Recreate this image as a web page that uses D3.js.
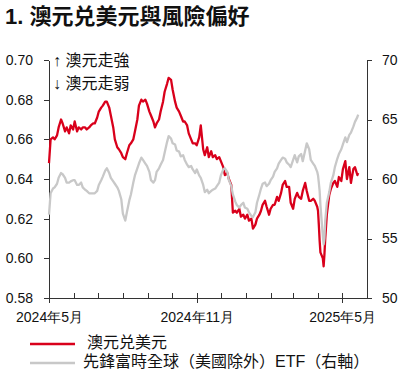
<!DOCTYPE html>
<html>
<head>
<meta charset="utf-8">
<script src="https://cdn.jsdelivr.net/npm/d3@7"></script>
<style>
  body { margin: 0; background: #fff; }
  svg { display: block; }
  .axis path, .axis line { stroke: #333; shape-rendering: crispEdges; }
  .axis text { font-family: "Liberation Sans", Arial, sans-serif; font-size: 14px; fill: #111; }
</style>
</head>
<body>
<div id="chart"></div>
<script>
// dates shared by both series
const dates = [
  "2024-05-01","2024-05-03","2024-05-06","2024-05-08","2024-05-11","2024-05-13","2024-05-16","2024-05-18","2024-05-21","2024-05-23",
  "2024-05-26","2024-05-28","2024-05-31","2024-06-02","2024-06-05","2024-06-07","2024-06-10","2024-06-12","2024-06-15","2024-06-17",
  "2024-06-20","2024-06-22","2024-06-25","2024-06-27","2024-06-30","2024-07-02","2024-07-05","2024-07-07","2024-07-10","2024-07-12",
  "2024-07-15","2024-07-17","2024-07-20","2024-07-22","2024-07-25","2024-07-27","2024-07-30","2024-08-01","2024-08-04","2024-08-06",
  "2024-08-09","2024-08-11","2024-08-14","2024-08-16","2024-08-19","2024-08-21","2024-08-24","2024-08-26","2024-08-29","2024-08-31",
  "2024-09-03","2024-09-05","2024-09-08","2024-09-10","2024-09-12","2024-09-15","2024-09-17","2024-09-20","2024-09-22","2024-09-25",
  "2024-09-27","2024-09-30","2024-10-02","2024-10-05","2024-10-07","2024-10-10","2024-10-12","2024-10-15","2024-10-17","2024-10-20",
  "2024-10-22","2024-10-25","2024-10-27","2024-10-30","2024-11-01","2024-11-04","2024-11-06","2024-11-09","2024-11-11","2024-11-14",
  "2024-11-16","2024-11-19","2024-11-21","2024-11-24","2024-11-26","2024-11-29","2024-12-01","2024-12-04","2024-12-06","2024-12-09",
  "2024-12-11","2024-12-14","2024-12-16","2024-12-19","2024-12-21","2024-12-24","2024-12-26","2024-12-29","2024-12-31","2025-01-03",
  "2025-01-05","2025-01-08","2025-01-10","2025-01-13","2025-01-15","2025-01-18","2025-01-20","2025-01-22","2025-01-25","2025-01-27",
  "2025-01-30","2025-02-01","2025-02-04","2025-02-06","2025-02-09","2025-02-11","2025-02-14","2025-02-16","2025-02-19","2025-02-21",
  "2025-02-24","2025-02-26","2025-03-01","2025-03-03","2025-03-06","2025-03-08","2025-03-11","2025-03-13","2025-03-16","2025-03-18",
  "2025-03-21","2025-03-23","2025-03-26","2025-03-28","2025-03-31","2025-04-01","2025-04-02","2025-04-03","2025-04-04","2025-04-07",
  "2025-04-08","2025-04-09","2025-04-10","2025-04-12","2025-04-15","2025-04-17","2025-04-20","2025-04-22","2025-04-25","2025-04-27",
  "2025-04-30","2025-05-02","2025-05-05","2025-05-07","2025-05-10","2025-05-12","2025-05-15","2025-05-17","2025-05-20","2025-05-21"
];

// AUD/USD (left axis)
const audusd = [
  0.648,0.660,0.661,0.660,0.662,0.666,0.670,0.668,0.664,0.666,
  0.663,0.667,0.665,0.669,0.664,0.666,0.665,0.666,0.666,0.665,
  0.666,0.667,0.668,0.668,0.671,0.674,0.676,0.677,0.679,0.679,
  0.676,0.672,0.666,0.660,0.656,0.655,0.653,0.651,0.650,0.653,
  0.657,0.658,0.660,0.664,0.670,0.677,0.680,0.679,0.680,0.678,
  0.674,0.672,0.669,0.666,0.668,0.670,0.674,0.679,0.684,0.688,
  0.691,0.690,0.685,0.679,0.676,0.674,0.672,0.669,0.669,0.667,
  0.663,0.660,0.658,0.658,0.657,0.661,0.667,0.655,0.652,0.656,
  0.651,0.654,0.651,0.652,0.650,0.651,0.649,0.646,0.642,0.643,
  0.640,0.637,0.623,0.624,0.623,0.625,0.621,0.622,0.620,0.622,
  0.619,0.620,0.615,0.617,0.620,0.622,0.624,0.627,0.629,0.626,
  0.622,0.625,0.627,0.627,0.631,0.629,0.633,0.637,0.639,0.636,
  0.636,0.628,0.625,0.630,0.633,0.631,0.630,0.634,0.638,0.634,
  0.629,0.629,0.630,0.629,0.626,0.624,0.617,0.609,0.603,0.600,
  0.596,0.602,0.610,0.622,0.632,0.635,0.638,0.639,0.636,0.641,
  0.639,0.645,0.649,0.640,0.646,0.638,0.645,0.646,0.642,0.643
];

// Vanguard FTSE All-World ex-US ETF (right axis)
const etf = [
  57.0,58.8,59.2,59.3,59.6,60.1,60.5,60.4,60.1,59.7,
  59.7,59.8,59.9,59.9,59.5,59.5,59.7,59.3,59.1,59.0,
  58.8,58.8,58.8,58.8,59.0,59.5,59.9,60.2,60.7,60.9,
  60.5,60.1,59.8,59.6,59.3,59.0,58.3,57.1,56.5,57.2,
  58.2,58.7,59.7,60.3,60.9,61.3,61.8,61.6,61.3,61.1,
  60.6,59.9,59.7,59.9,60.6,60.9,61.2,61.6,62.2,63.1,
  63.6,63.4,63.0,62.9,62.4,62.3,61.9,62.0,61.6,61.2,
  61.0,61.1,60.8,60.5,60.8,60.3,60.1,59.5,58.9,59.1,
  58.8,59.0,59.1,59.2,59.4,59.7,60.3,60.8,60.9,60.6,
  59.9,59.4,58.7,58.1,57.8,57.6,57.8,58.0,57.6,57.5,
  57.2,56.9,56.8,57.2,58.0,58.7,59.2,59.6,59.7,59.4,
  59.6,59.9,60.2,60.6,60.9,61.3,61.6,61.8,61.7,61.4,
  61.2,61.0,61.6,62.0,61.4,61.9,62.1,61.5,62.4,63.0,
  62.5,61.6,61.3,61.1,60.6,60.3,59.7,59.0,57.8,55.2,
  54.5,55.0,56.5,58.0,58.9,59.7,60.3,61.0,61.7,62.1,
  62.5,62.9,63.5,63.1,63.7,63.9,64.4,64.8,65.2,65.4
];

const leftTicks = [0.58, 0.60, 0.62, 0.64, 0.66, 0.68, 0.70];
const rightTicks = [50, 55, 60, 65, 70];
const labelMonths = ["2024-05-01", "2024-11-01", "2025-05-01"];
const seriesNames = ["澳元兑美元", "先鋒富時全球（美國除外）ETF（右軸）"];

const parse = d3.timeParse("%Y-%m-%d");
const data = dates.map((d, i) => ({ date: parse(d), aud: audusd[i], etf: etf[i] }));

const width = 401, height = 373;
const margin = { top: 60, right: 34, bottom: 75, left: 49 };
const innerW = width - margin.left - margin.right;
const innerH = height - margin.top - margin.bottom;

const svg = d3.select("#chart")
  .append("svg")
  .attr("width", width)
  .attr("height", height);

// title
svg.append("text")
  .attr("x", 5)
  .attr("y", 24)
  .style("font-family", "'Liberation Sans', 'Noto Sans CJK TC', sans-serif")
  .style("font-size", "22px")
  .style("font-weight", "bold")
  .style("fill", "#111")
  .text("1. 澳元兑美元與風險偏好");

const g = svg.append("g")
  .attr("transform", `translate(${margin.left},${margin.top})`);

const x = d3.scaleTime()
  .domain([parse("2024-05-01"), parse("2025-06-01")])
  .range([0, innerW]);

const yL = d3.scaleLinear().domain([0.58, 0.70]).range([innerH, 0]);
const yR = d3.scaleLinear().domain([50, 70]).range([innerH, 0]);

// monthly minor ticks pointing up
g.append("g")
  .attr("class", "axis")
  .attr("transform", `translate(0,${innerH})`)
  .call(d3.axisBottom(x)
    .ticks(d3.timeMonth.every(1))
    .tickSizeInner(-5)
    .tickSizeOuter(0)
    .tickFormat(""));

// major ticks with labels
g.append("g")
  .attr("class", "axis")
  .attr("transform", `translate(0,${innerH})`)
  .call(d3.axisBottom(x)
    .tickValues(labelMonths.map(parse))
    .tickSize(5)
    .tickPadding(9)
    .tickFormat(d => `${d.getFullYear()}年${d.getMonth() + 1}月`))
  .call(a => a.select(".domain").remove());

g.append("g")
  .attr("class", "axis")
  .call(d3.axisLeft(yL)
    .tickValues(leftTicks)
    .tickSize(5)
    .tickSizeOuter(0)
    .tickPadding(11)
    .tickFormat(d3.format(".2f")));

g.append("g")
  .attr("class", "axis")
  .attr("transform", `translate(${innerW},0)`)
  .call(d3.axisRight(yR)
    .tickValues(rightTicks)
    .tickSize(5)
    .tickSizeOuter(0)
    .tickPadding(10));

const red = "#d9001b", grey = "#c8c8c8";

const lineAud = d3.line().x(d => x(d.date)).y(d => yL(d.aud));
const lineEtf = d3.line().x(d => x(d.date)).y(d => yR(d.etf));

g.append("path")
  .datum(data)
  .attr("fill", "none")
  .attr("stroke", red)
  .attr("stroke-width", 2.3)
  .attr("stroke-linejoin", "round")
  .attr("d", lineAud);

g.append("path")
  .datum(data)
  .attr("fill", "none")
  .attr("stroke", grey)
  .attr("stroke-width", 2.3)
  .attr("stroke-linejoin", "round")
  .attr("d", lineEtf);

// direction note
const noteFont = "'Liberation Sans', 'Noto Sans CJK TC', sans-serif";
g.selectAll(".note")
  .data(["↑ 澳元走強", "↓ 澳元走弱"])
  .enter()
  .append("text")
  .attr("x", 4)
  .attr("y", (d, i) => 2 + i * 23)
  .attr("dominant-baseline", "middle")
  .style("font-family", noteFont)
  .style("font-size", "16px")
  .style("fill", "#111")
  .text(d => d);

// legend
const legend = svg.selectAll(".legend")
  .data(seriesNames)
  .enter()
  .append("g")
  .attr("transform", (d, i) => `translate(30,${344 + i * 19})`);

legend.append("line")
  .attr("x1", 0).attr("x2", 45)
  .attr("stroke", (d, i) => i === 0 ? red : grey)
  .attr("stroke-width", 2.5);

legend.append("text")
  .attr("x", (d, i) => i === 0 ? 57 : 53)
  .attr("dominant-baseline", "middle")
  .style("font-family", noteFont)
  .style("font-size", "16px")
  .style("fill", "#111")
  .text(d => d);
</script>
</body>
</html>
